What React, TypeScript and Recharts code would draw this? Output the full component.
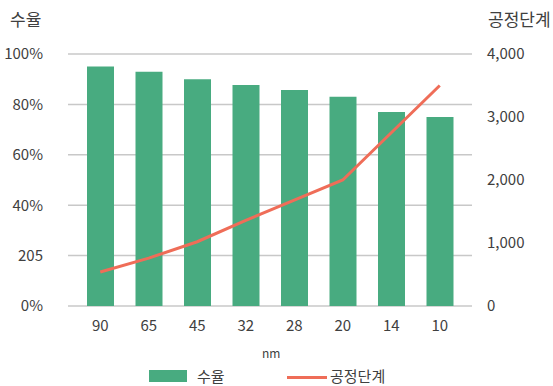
import React from "react";
import {
  Bar,
  CartesianGrid,
  ComposedChart,
  Line,
  XAxis,
  YAxis,
} from "recharts";

const nodes = ["90", "65", "45", "32", "28", "20", "14", "10"];
const yieldPct = [95, 93, 90, 87.7, 85.7, 83, 77, 75];
const processSteps = [540, 760, 1020, 1360, 1680, 2000, 2750, 3500];
const leftTicks = [0, 20, 40, 60, 80, 100];
const leftTickLabels = ["0%", "205", "40%", "60%", "80%", "100%"];
const rightTicks = [0, 1000, 2000, 3000, 4000];

const GREEN = "#48ab80";
const RED = "#ef6d58";
const FONT = '"Noto Sans CJK KR", "Noto Sans", sans-serif';
const TXT = "#404040";

const data = nodes.map((n, i) => ({
  nm: n,
  yield: yieldPct[i],
  steps: processSteps[i],
}));

export default function App() {
  return (
    <div
      style={{
        position: "absolute",
        left: 0,
        top: 0,
        width: 553,
        height: 386,
        fontFamily: FONT,
        color: TXT,
        background: "#fff",
      }}
    >
      <div style={{ position: "absolute", left: 10, top: 6, fontSize: 17 }}>수율</div>
      <div style={{ position: "absolute", left: 488, top: 6, fontSize: 17 }}>공정단계</div>

      <ComposedChart
        width={553}
        height={386}
        data={data}
        margin={{ top: 54, right: 0, bottom: 40, left: 0 }}
        style={{ fontFamily: FONT }}
      >
        <CartesianGrid
          vertical={false}
          stroke="#c8c8c8"
          strokeWidth={1.5}
          yAxisId="left"
        />
        <XAxis
          dataKey="nm"
          axisLine={false}
          tickLine={false}
          tickSize={0}
          tickMargin={14}
          padding={{ left: 8, right: 8 }}
          tick={{ fill: TXT, fontSize: 15 }}
          height={40}
          interval={0}
        />
        <YAxis
          yAxisId="left"
          orientation="left"
          width={68}
          domain={[0, 100]}
          ticks={leftTicks}
          tickFormatter={(v: number) => leftTickLabels[leftTicks.indexOf(v)]}
          axisLine={false}
          tickLine={false}
          tickSize={0}
          tickMargin={25}
          tick={{ fill: TXT, fontSize: 15 }}
        />
        <YAxis
          yAxisId="right"
          orientation="right"
          width={81}
          domain={[0, 4000]}
          ticks={rightTicks}
          tickFormatter={(v: number) => v.toLocaleString("en-US")}
          axisLine={false}
          tickLine={false}
          tickSize={0}
          tickMargin={15}
          tick={{ fill: TXT, fontSize: 15, textAnchor: "start" }}
        />
        <Bar
          yAxisId="left"
          dataKey="yield"
          fill={GREEN}
          barSize={27}
          isAnimationActive={false}
        />
        <Line
          yAxisId="right"
          dataKey="steps"
          type="linear"
          stroke={RED}
          strokeWidth={3}
          dot={false}
          isAnimationActive={false}
        />
      </ComposedChart>

      <div style={{ position: "absolute", left: 262, top: 344, fontSize: 12 }}>nm</div>

      <div
        style={{
          position: "absolute",
          left: 149,
          top: 370,
          width: 38,
          height: 12,
          background: GREEN,
        }}
      />
      <div style={{ position: "absolute", left: 197, top: 365, fontSize: 15 }}>수율</div>
      <div
        style={{
          position: "absolute",
          left: 287,
          top: 376,
          width: 40,
          height: 3,
          background: RED,
        }}
      />
      <div style={{ position: "absolute", left: 330, top: 365, fontSize: 15 }}>공정단계</div>
    </div>
  );
}
